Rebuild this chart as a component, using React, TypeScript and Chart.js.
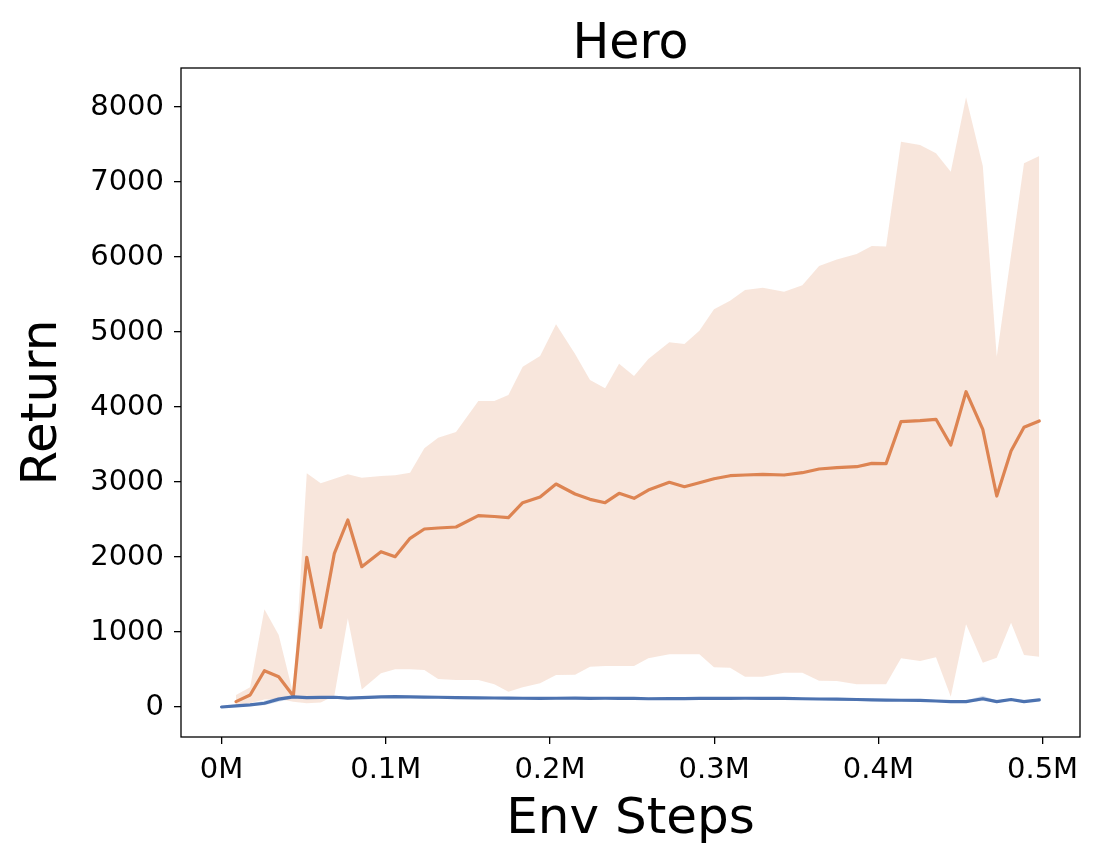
import { useEffect, useRef } from "react";
import { Chart, registerables } from "chart.js";

Chart.register(...registerables);

const TITLE = "Hero";
const X_LABEL = "Env Steps";
const Y_LABEL = "Return";

const X_TICKS = [0, 0.1, 0.2, 0.3, 0.4, 0.5];
const X_TICK_LABELS = ["0M", "0.1M", "0.2M", "0.3M", "0.4M", "0.5M"];
const Y_TICKS = [0, 1000, 2000, 3000, 4000, 5000, 6000, 7000, 8000];

// env steps (millions) for the orange run
const STEPS = [
  0.0088, 0.0174, 0.0261, 0.0348, 0.0437, 0.0519, 0.0604, 0.0687, 0.0769, 0.0854,
  0.0971, 0.1057, 0.1148, 0.1235, 0.1319, 0.1428, 0.1564, 0.1661, 0.1747, 0.1834,
  0.194, 0.2037, 0.2153, 0.2244, 0.2336, 0.2421, 0.2512, 0.2599, 0.2727, 0.2819,
  0.291, 0.2999, 0.3097, 0.3188, 0.3296, 0.3426, 0.3537, 0.3639, 0.3747, 0.3868,
  0.396, 0.4047, 0.4138, 0.4254, 0.4351, 0.4441, 0.4534, 0.4636, 0.4721, 0.4808,
  0.4887, 0.498,
];

const ORANGE_MEAN = [
  71, 160, 484, 404, 147, 1996, 1062, 2049, 2493, 1871,
  2071, 2004, 2249, 2373, 2387, 2400, 2551, 2540, 2524, 2724,
  2800, 2973, 2840, 2769, 2724, 2849, 2783, 2893, 2996, 2937,
  2991, 3044, 3084, 3093, 3102, 3093, 3124, 3173, 3192, 3204,
  3249, 3245, 3806, 3818, 3836, 3493, 4204, 3702, 2813, 3413,
  3729, 3813,
];

const ORANGE_HI = [
  160, 262, 1302, 960, 170, 3116, 2982, 3044, 3102, 3058,
  3080, 3089, 3124, 3449, 3591, 3667, 4080, 4080, 4160, 4537,
  4680, 5103, 4707, 4360, 4249, 4577, 4413, 4640, 4863, 4840,
  5017, 5302, 5417, 5560, 5591, 5537, 5622, 5880, 5967, 6040,
  6147, 6140, 7537, 7493, 7382, 7137, 8129, 7213, 4671, 6027,
  7249, 7347,
];

const ORANGE_LO = [
  30, 50, 100, 110, 70, 50, 60, 150, 1182, 235,
  449, 503, 503, 495, 373, 360, 360, 303, 204, 263,
  316, 427, 431, 537, 547, 547, 547, 649, 703, 703,
  703, 529, 524, 404, 404, 457, 457, 351, 347, 302,
  305, 305, 649, 613, 663, 138, 1103, 591, 658, 1124,
  693, 671,
];

// env steps (millions) for the blue run
const BLUE_STEPS = [0, ...STEPS];

const BLUE_MEAN = [
  0, 15, 28, 50, 105, 135, 125, 128, 130, 118,
  125, 135, 138, 135, 132, 130, 126, 122, 120, 118,
  117, 116, 117, 118, 116, 117, 116, 115, 110, 112,
  113, 114, 115, 116, 117, 116, 114, 110, 107, 104,
  100, 95, 92, 90, 88, 80, 72, 72, 110, 72,
  100, 72, 95,
];

const BLUE_LO = [
  0, 5, 12, 25, 70, 115, 110, 113, 115, 105,
  110, 120, 123, 120, 117, 115, 111, 108, 106, 104,
  103, 102, 103, 104, 102, 103, 102, 101, 97, 99,
  100, 101, 102, 103, 104, 103, 101, 97, 94, 91,
  87, 82, 79, 77, 75, 67, 60, 60, 80, 58,
  85, 60, 82,
];

const BLUE_HI = [
  0, 25, 45, 85, 135, 150, 140, 143, 145, 132,
  140, 150, 153, 150, 147, 145, 141, 137, 134, 132,
  131, 130, 131, 132, 130, 131, 130, 129, 124, 126,
  127, 128, 129, 130, 131, 130, 128, 124, 121, 118,
  114, 110, 106, 104, 102, 94, 86, 88, 150, 86,
  115, 86, 108,
];

const ORANGE = "#DD8452";
const BLUE = "#4C72B0";
const FONT = "'DejaVu Sans', sans-serif";

const pts = (xs: number[], ys: number[]) => xs.map((x, i) => ({ x, y: ys[i] }));

export default function App() {
  const ref = useRef<HTMLCanvasElement>(null);

  useEffect(() => {
    const canvas = ref.current;
    if (!canvas) return;

    const framePlugin = {
      id: "frameAndTitle",
      afterDraw(chart: any) {
        const { ctx, chartArea: a } = chart;
        ctx.save();
        ctx.strokeStyle = "#000";
        ctx.lineWidth = 1.3;
        ctx.strokeRect(a.left, a.top, a.right - a.left, a.bottom - a.top);
        ctx.fillStyle = "#000";
        ctx.font = `49px ${FONT}`;
        ctx.textAlign = "center";
        ctx.textBaseline = "alphabetic";
        ctx.fillText(TITLE, (a.left + a.right) / 2, 58);
        ctx.restore();
      },
    };

    const chart = new Chart(canvas, {
      type: "line",
      data: {
        datasets: [
          {
            data: pts(STEPS, ORANGE_LO),
            borderColor: "rgba(0,0,0,0)",
            borderWidth: 0,
            pointRadius: 0,
            fill: false,
            order: 3,
          },
          {
            data: pts(STEPS, ORANGE_HI),
            borderColor: "rgba(0,0,0,0)",
            borderWidth: 0,
            pointRadius: 0,
            fill: "-1",
            backgroundColor: "rgba(221,132,82,0.2)",
            order: 3,
          },
          {
            data: pts(BLUE_STEPS, BLUE_LO),
            borderColor: "rgba(0,0,0,0)",
            borderWidth: 0,
            pointRadius: 0,
            fill: false,
            order: 4,
          },
          {
            data: pts(BLUE_STEPS, BLUE_HI),
            borderColor: "rgba(0,0,0,0)",
            borderWidth: 0,
            pointRadius: 0,
            fill: "-1",
            backgroundColor: "rgba(76,114,176,0.2)",
            order: 4,
          },
          {
            data: pts(STEPS, ORANGE_MEAN),
            borderColor: ORANGE,
            borderWidth: 3.2,
            pointRadius: 0,
            fill: false,
            order: 2,
          },
          {
            data: pts(BLUE_STEPS, BLUE_MEAN),
            borderColor: BLUE,
            borderWidth: 3.2,
            pointRadius: 0,
            fill: false,
            order: 1,
          },
        ],
      },
      options: {
        responsive: false,
        animation: false,
        layout: { padding: { top: 68, right: 23, left: 0, bottom: 0 } },
        plugins: {
          legend: { display: false },
          tooltip: { enabled: false },
          title: { display: false },
        },
        elements: { line: { tension: 0, borderJoinStyle: "round", borderCapStyle: "round" } },
        scales: {
          x: {
            type: "linear",
            min: -0.0247,
            max: 0.5228,
            afterFit: (s: any) => {
              s.height = 125;
            },
            afterBuildTicks: (s: any) => {
              s.ticks = X_TICKS.map((v) => ({ value: v }));
            },
            ticks: {
              autoSkip: false,
              maxRotation: 0,
              color: "#000",
              padding: 9,
              font: { family: FONT, size: 29 },
              callback: (v: any) => X_TICK_LABELS[X_TICKS.indexOf(Number(v))] ?? "",
            },
            grid: { drawOnChartArea: false, tickLength: 7, color: "#000", lineWidth: 1.3 },
            border: { display: false },
            title: {
              display: true,
              text: X_LABEL,
              color: "#000",
              font: { family: FONT, size: 50 },
              padding: { top: 0, bottom: 12 },
            },
          },
          y: {
            type: "linear",
            min: -400,
            max: 8520,
            afterFit: (s: any) => {
              s.width = 181;
            },
            afterBuildTicks: (s: any) => {
              s.ticks = Y_TICKS.map((v) => ({ value: v }));
            },
            ticks: {
              color: "#000",
              padding: 10,
              font: { family: FONT, size: 29 },
              callback: (v: any) => String(v),
            },
            grid: { drawOnChartArea: false, tickLength: 7, color: "#000", lineWidth: 1.3 },
            border: { display: false },
            title: {
              display: true,
              text: Y_LABEL,
              color: "#000",
              font: { family: FONT, size: 50 },
              padding: { top: 13, bottom: 0 },
            },
          },
        },
      },
      plugins: [framePlugin],
    } as any);

    return () => chart.destroy();
  }, []);

  return (
    <div
      style={{
        position: "fixed",
        left: 0,
        top: 0,
        width: 1103,
        height: 862,
        background: "#fff",
      }}
    >
      <canvas ref={ref} width={1103} height={862} style={{ display: "block" }} />
    </div>
  );
}
